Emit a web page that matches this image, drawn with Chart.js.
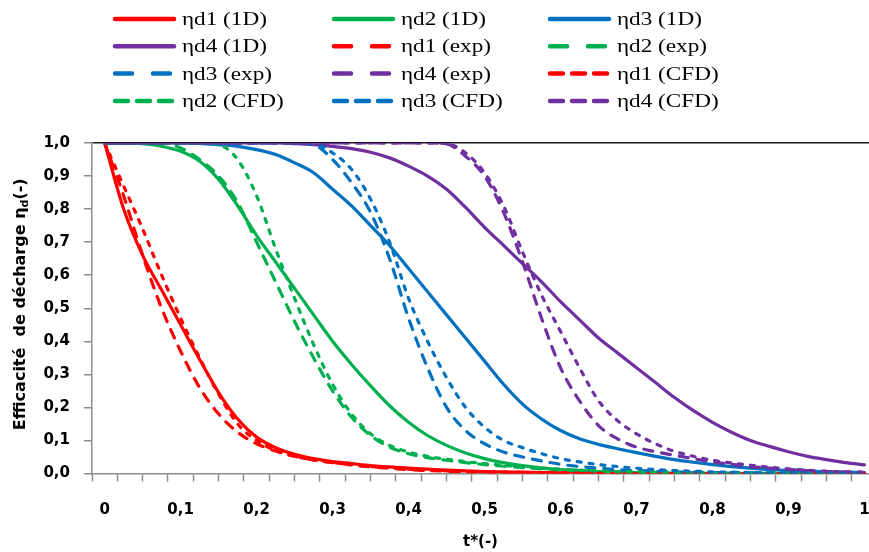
<!DOCTYPE html>
<html>
<head>
<meta charset="utf-8">
<script src="https://cdn.jsdelivr.net/npm/chart.js@4/dist/chart.umd.min.js"></script>
<style>
  body { margin: 0; background: #fff; }
  #wrap { width: 869px; height: 552px; }
</style>
</head>
<body>
<div id="wrap"><canvas id="myChart" width="869" height="552"></canvas></div>
<script>
// t* grid (step 0.025)
const tValues = [0, 0.025, 0.05, 0.075, 0.1, 0.125, 0.15, 0.175, 0.2, 0.225,
  0.25, 0.275, 0.3, 0.325, 0.35, 0.375, 0.4, 0.425, 0.45, 0.475,
  0.5, 0.525, 0.55, 0.575, 0.6, 0.625, 0.65, 0.675, 0.7, 0.725,
  0.75, 0.775, 0.8, 0.825, 0.85, 0.875, 0.9, 0.925, 0.95, 0.975, 1];

// 1D model
const eta1_1D = [1, .80, .66, .555, .45, .345, .245, .165, .11, .078, .058, .045, .036, .03, .024, .02, .016, .013, .01, .008,
  .006, .005, .004, .003, .002, .002, .001, .001, .001, 0, 0, 0, 0, 0, 0, 0, 0, 0, 0, 0, 0];
const eta2_1D = [1, 1, .998, .99, .975, .945, .89, .81, .72, .64, .56, .48, .4, .33, .265, .205, .155, .115, .085, .062,
  .045, .033, .024, .017, .012, .009, .006, .004, .003, .002, .001, .001, 0, 0, 0, 0, 0, 0, 0, 0, 0];
const eta3_1D = [1, 1, 1, 1, 1, .999, .995, .99, .98, .965, .94, .91, .86, .81, .75, .69, .62, .55, .48, .41,
  .34, .27, .21, .165, .13, .105, .088, .075, .063, .052, .042, .034, .027, .021, .016, .012, .009, .007, .005, .004, .003];
const eta4_1D = [1, 1, 1, 1, 1, 1, 1, 1, 1, 1, .998, .995, .99, .983, .972, .955, .93, .9, .86, .805,
  .745, .69, .635, .58, .52, .465, .41, .365, .32, .275, .23, .19, .155, .125, .1, .082, .066, .052, .042, .033, .026];

// experiments
const eta1_exp = [1, .84, .66, .5, .37, .26, .18, .125, .09, .068, .052, .041, .033, .026, .02, .016, .012, .009, .007, .005,
  .004, .003, .002, .002, .001, .001, 0, 0, 0, 0, 0, 0, 0, 0, 0, 0, 0, 0, 0, 0, 0];
const eta2_exp = [1, 1, 1, 1, .985, .95, .9, .82, .7, .58, .46, .35, .25, .17, .115, .08, .06, .048, .04, .033,
  .027, .022, .018, .014, .011, .009, .007, .006, .005, .004, .003, .003, .002, .002, .001, .001, .001, 0, 0, 0, 0];
const eta3_exp = [1, 1, 1, 1, 1, 1, 1, 1, 1, 1, 1, .995, .95, .88, .79, .65, .47, .32, .2, .13,
  .09, .065, .05, .038, .028, .021, .016, .012, .009, .007, .005, .004, .003, .002, .002, .001, .001, 0, 0, 0, 0];
const eta4_exp = [1, 1, 1, 1, 1, 1, 1, 1, 1, 1, 1, 1, 1, 1, 1, 1, 1, 1, .997, .96,
  .9, .79, .64, .47, .32, .22, .145, .105, .08, .066, .055, .045, .035, .028, .021, .016, .012, .009, .006, .004, .003];

// CFD
const eta1_CFD = [1, .87, .74, .6, .47, .35, .24, .15, .1, .07, .052, .041, .033, .027, .021, .017, .013, .01, .008, .006,
  .005, .004, .003, .002, .002, .001, .001, 0, 0, 0, 0, 0, 0, 0, 0, 0, 0, 0, 0, 0, 0];
const eta2_CFD = [1, 1, 1, 1, 1, 1, .995, .95, .84, .68, .53, .39, .27, .18, .12, .085, .065, .052, .043, .036,
  .03, .025, .02, .016, .013, .01, .008, .006, .005, .004, .003, .003, .002, .002, .001, .001, .001, 0, 0, 0, 0];
const eta3_CFD = [1, 1, 1, 1, 1, 1, 1, 1, 1, 1, 1, .998, .97, .92, .83, .7, .53, .4, .29, .2,
  .14, .1, .078, .06, .045, .035, .027, .021, .016, .012, .009, .007, .005, .004, .003, .002, .002, .001, .001, 0, 0];
const eta4_CFD = [1, 1, 1, 1, 1, 1, 1, 1, 1, 1, 1, 1, 1, 1, 1, 1, 1, 1, .998, .97,
  .91, .81, .67, .54, .43, .32, .22, .16, .12, .09, .067, .052, .04, .032, .025, .019, .014, .01, .007, .005, .004];

const xTickValues = [0, 0.1, 0.2, 0.3, 0.4, 0.5, 0.6, 0.7, 0.8, 0.9, 1];
const xTickLabels = ['0', '0,1', '0,2', '0,3', '0,4', '0,5', '0,6', '0,7', '0,8', '0,9', '1'];
const yTickLabels = ['0,0', '0,1', '0,2', '0,3', '0,4', '0,5', '0,6', '0,7', '0,8', '0,9', '1,0'];

const red = '#ff0000', green = '#00b050', blue = '#0070c0', purple = '#7030a0';
const solid = { line: [], legend: [] };
const longDash = { line: [9, 9], legend: [17, 21] };
const shortDash = { line: [4, 8], legend: [13, 9] };

function series(label, values, color, style) {
  return {
    label: label,
    data: tValues.map((t, i) => ({ x: t, y: values[i] })),
    borderColor: color,
    borderWidth: 3.2,
    borderDash: style.line,
    borderCapStyle: 'round',
    borderJoinStyle: 'round',
    legendDash: style.legend,
    pointRadius: 0,
    cubicInterpolationMode: 'monotone',
    fill: false
  };
}

const datasets = [
  series('ηd1 (1D)', eta1_1D, red, solid),
  series('ηd2 (1D)', eta2_1D, green, solid),
  series('ηd3 (1D)', eta3_1D, blue, solid),
  series('ηd4 (1D)', eta4_1D, purple, solid),
  series('ηd1 (exp)', eta1_exp, red, longDash),
  series('ηd2 (exp)', eta2_exp, green, longDash),
  series('ηd3 (exp)', eta3_exp, blue, longDash),
  series('ηd4 (exp)', eta4_exp, purple, longDash),
  series('ηd1 (CFD)', eta1_CFD, red, shortDash),
  series('ηd2 (CFD)', eta2_CFD, green, shortDash),
  series('ηd3 (CFD)', eta3_CFD, blue, shortDash),
  series('ηd4 (CFD)', eta4_CFD, purple, shortDash)
];
// later series on top, like the original
datasets.forEach((ds, i) => { ds.order = datasets.length - i; });

// category borders sit half a step (1/60) off the labels
function isLabelTick(v) {
  return Math.abs(v * 10 - Math.round(v * 10)) < 1e-6;
}

// legend in 3 fixed columns
const legendCols = [113, 332, 548];
const gridLegend = {
  id: 'gridLegend',
  afterDraw(chart) {
    const ctx = chart.ctx;
    chart.data.datasets.forEach((ds, i) => {
      const x = legendCols[i % 3];
      const y = 19 + Math.floor(i / 3) * 27.3;
      ctx.save();
      ctx.strokeStyle = ds.borderColor;
      ctx.lineWidth = 4.5;
      ctx.lineCap = 'round';
      ctx.setLineDash(ds.legendDash);
      ctx.beginPath();
      ctx.moveTo(x + 2, y);
      ctx.lineTo(x + 61, y);
      ctx.stroke();
      ctx.setLineDash([]);
      ctx.fillStyle = '#000';
      ctx.font = '19px "Liberation Serif"';
      ctx.textBaseline = 'middle';
      ctx.translate(x + 69, y + 1);
      ctx.scale(1.22, 1);
      ctx.fillText(ds.label, 0, 0);
      ctx.restore();
    });
  }
};

// y title with subscript d
const yTitle = {
  id: 'yTitle',
  afterDraw(chart) {
    const ctx = chart.ctx;
    const area = chart.chartArea;
    const parts = [
      { text: 'Efficacité  de décharge η', font: 'bold 16px "DejaVu Sans"', dy: 0 },
      { text: 'd', font: 'bold 11px "DejaVu Sans"', dy: 4 },
      { text: '(-)', font: 'bold 16px "DejaVu Sans"', dy: 0 }
    ];
    ctx.save();
    ctx.translate(21, (area.top + area.bottom) / 2 - 4);
    ctx.rotate(-Math.PI / 2);
    ctx.fillStyle = '#000';
    ctx.textBaseline = 'middle';
    let total = 0;
    parts.forEach(p => { ctx.font = p.font; p.w = ctx.measureText(p.text).width; total += p.w; });
    let pos = -total / 2;
    parts.forEach(p => {
      ctx.font = p.font;
      ctx.fillText(p.text, pos, p.dy);
      pos += p.w;
    });
    ctx.restore();
  }
};

const tickFont = { family: 'DejaVu Sans', weight: 'bold', size: 15 };

const ctx = document.getElementById('myChart').getContext('2d');
const chart = new Chart(ctx, {
  type: 'line',
  data: { datasets: datasets },
  options: {
    responsive: false,
    animation: false,
    layout: { padding: { top: 143, left: 0, right: 0, bottom: 0 } },
    plugins: {
      legend: { display: false },
      tooltip: { enabled: false }
    },
    scales: {
      x: {
        type: 'linear',
        min: -1 / 60,
        max: 1.006,
        afterBuildTicks: scale => {
          const borders = [];
          for (let k = 0; k <= 31; k++) {
            const v = (2 * k - 1) / 60;
            if (v >= scale.min - 1e-9 && v <= scale.max) borders.push(v);
          }
          scale.ticks = borders.concat(xTickValues).sort((a, b) => a - b).map(v => ({ value: v }));
        },
        ticks: {
          autoSkip: false,
          maxRotation: 0,
          color: '#000',
          font: tickFont,
          padding: 20,
          callback: v => isLabelTick(v) ? xTickLabels[Math.round(v * 10)] : ''
        },
        grid: {
          drawOnChartArea: false,
          tickLength: 8,
          tickWidth: 1.5,
          tickColor: c => (c.tick && isLabelTick(c.tick.value)) ? 'rgba(0,0,0,0)' : '#8c8c8c'
        },
        border: { color: '#8c8c8c', width: 1.5 },
        title: {
          display: true,
          text: 't*(-)',
          color: '#000',
          font: { family: 'DejaVu Sans', weight: 'bold', size: 15 },
          padding: { top: 0, bottom: 1 }
        },
        afterFit: scale => {
          scale.height = 78.5;
          scale.paddingLeft = 0;
          scale.paddingRight = 0;
        }
      },
      y: {
        min: 0,
        max: 1,
        ticks: {
          stepSize: 0.1,
          color: '#000',
          font: tickFont,
          padding: 14,
          callback: v => yTickLabels[Math.round(v * 10)]
        },
        grid: {
          color: c => (c.tick && c.tick.value === 1) ? '#1a1a1a' : 'rgba(0,0,0,0)',
          lineWidth: 1.5,
          tickColor: '#8c8c8c',
          tickLength: 8,
          tickWidth: 1.5
        },
        border: { color: '#8c8c8c', width: 1.5 },
        afterFit: scale => { scale.width = 92; }
      }
    }
  },
  plugins: [gridLegend, yTitle]
});
</script>
</body>
</html>
